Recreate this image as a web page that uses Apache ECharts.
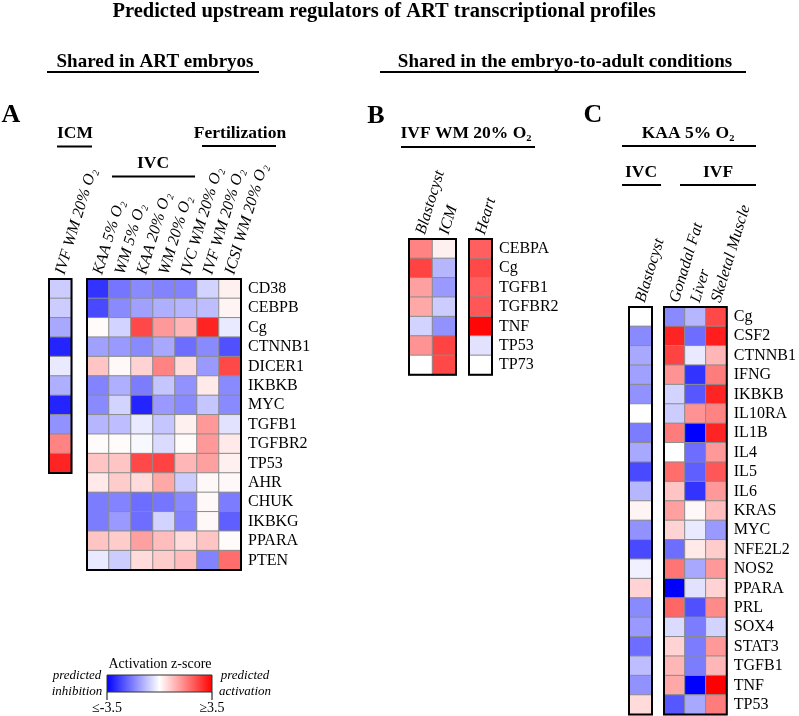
<!DOCTYPE html>
<html>
<head>
<meta charset="utf-8">
<script src="https://cdn.jsdelivr.net/npm/echarts@6/dist/echarts.min.js"></script>
<style>html,body{margin:0;padding:0;background:#fff;}#chart{width:799px;height:716px;}</style>
</head>
<body>
<div id="chart"></div>
<script>
// ---------- DATA ----------
const rowsA = ['CD38','CEBPB','Cg','CTNNB1','DICER1','IKBKB','MYC','TGFB1','TGFBR2','TP53','AHR','CHUK','IKBKG','PPARA','PTEN'];
const rowsICM = ['CD38','CEBPB','Cg','CTNNB1','DICER1','IKBKB','MYC','TGFB1','TGFBR2','TP53'];
const colsICM = ['IVF WM 20% O\u2082'];
const valsICM = [-0.7,-0.7,-1.2,-3.0,-0.3,-1.1,-3.0,-1.5,1.7,3.0];

const colsA = ['KAA 5% O\u2082','WM 5% O\u2082','KAA 20% O\u2082','WM 20% O\u2082','IVC WM 20% O\u2082','IVF WM 20% O\u2082','ICSI WM 20% O\u2082'];
const valsA = [
  [-2.8,-1.9,-1.6,-1.7,-1.7,-0.6, 0.2],
  [-2.5,-1.6,-1.3,-1.1,-1.0,-0.9, 0.15],
  [ 0.05,-0.6, 2.5, 1.4, 1.0, 3.0,-0.3],
  [-1.3,-1.4,-1.6,-1.2,-2.0,-1.6,-2.4],
  [ 0.8, 0.1, 0.6, 1.7, 0.5,-1.4, 2.5],
  [-1.7,-1.1,-1.8,-0.8,-1.5, 0.3,-1.6],
  [-1.6,-0.6,-3.0,-1.4,-1.6,-0.8,-1.6],
  [-1.0,-0.9,-0.3,-0.8, 0.2, 1.4,-0.4],
  [ 0.05, 0.05,-0.1,-0.5, 0.05, 1.4, 0.3],
  [ 0.8, 0.8, 2.5, 2.6, 1.0, 1.3, 0.2],
  [ 0.3, 0.7, 0.5, 1.2,-0.7, 0.1, 0.1],
  [-1.8,-1.7,-2.0,-1.9,-1.6, 0.1,-1.8],
  [-1.8,-1.4,-2.0,-0.6,-1.7, 0.1,-2.2],
  [ 0.8, 0.7, 1.3, 0.9, 0.5, 0.8, 0.05],
  [-0.3,-0.7, 0.5, 0.7, 0.9,-1.7, 2.0]
];

const rowsB = ['CEBPA','Cg','TGFB1','TGFBR2','TNF','TP53','TP73'];
const colsB1 = ['Blastocyst','ICM'];
const valsB1 = [[1.7,0.2],[2.6,-1.0],[1.3,-1.4],[1.2,-0.7],[-0.6,-1.5],[1.5,2.6],[0.0,2.5]];
const colsB2 = ['Heart'];
const valsB2 = [2.2,2.5,2.2,2.3,3.4,-0.4,0.0];

const rowsC = ['Cg','CSF2','CTNNB1','IFNG','IKBKB','IL10RA','IL1B','IL4','IL5','IL6','KRAS','MYC','NFE2L2','NOS2','PPARA','PRL','SOX4','STAT3','TGFB1','TNF','TP53'];
const colsC1 = ['Blastocyst'];
const valsC1 = [0.0,-1.6,-1.2,-1.3,-1.5,0.0,-1.8,-1.2,-2.5,-1.0,0.15,-1.5,-2.5,-0.2,0.6,-1.6,-1.4,-2.0,-0.9,-1.5,0.5];
const colsC2 = ['Gonadal Fat','Liver','Skeletal Muscle'];
const valsC2 = [
  [-1.6,-1.0, 2.5],
  [ 3.0,-2.0, 3.1],
  [ 2.6,-0.3, 1.0],
  [ 1.5,-2.8, 1.8],
  [-0.6,-2.3, 3.0],
  [-0.7, 1.5, 1.7],
  [ 1.8,-3.5, 3.0],
  [ 0.0,-2.0, 1.4],
  [ 2.0,-2.2, 2.3],
  [ 0.8,-2.8, 1.4],
  [ 1.3, 0.1, 0.9],
  [ 0.6,-0.3,-1.4],
  [-2.0, 0.3, 0.7],
  [ 1.9,-1.2, 1.4],
  [-3.5,-0.4, 0.6],
  [ 2.1,-2.4, 1.6],
  [-0.5,-1.8,-0.6],
  [ 0.6,-1.8, 1.4],
  [ 1.0,-1.8, 1.0],
  [ 1.2,-3.5, 3.5],
  [-2.3,-1.2, 1.8]
];
const legendTicks = ['\u2264-3.5','\u22653.5'];

// ---------- BUILD ----------
const SERIF = "'Liberation Serif', 'Times New Roman', serif";
const RH = 19.4;
const panels = [
  {cols: colsICM, rows: rowsICM, vals: valsICM.map(v => [v]), left: 49, top: 279, width: 22.5, labels: false},
  {cols: colsA,   rows: rowsA,   vals: valsA,                  left: 87, top: 279, width: 154, labels: true},
  {cols: colsB1,  rows: rowsB,   vals: valsB1,                 left: 409, top: 239, width: 47, labels: false},
  {cols: colsB2,  rows: rowsB,   vals: valsB2.map(v => [v]),   left: 469, top: 239, width: 23, labels: true},
  {cols: colsC1,  rows: rowsC,   vals: valsC1.map(v => [v]),   left: 629, top: 307, width: 23, labels: false},
  {cols: colsC2,  rows: rowsC,   vals: valsC2,                 left: 664, top: 307, width: 68, labels: true}
];

const grids = [], xAxes = [], yAxes = [], series = [];
panels.forEach((p, i) => {
  grids.push({left: p.left, top: p.top, width: p.width, height: p.rows.length * RH,
    show: true, borderColor: '#000', borderWidth: 2, backgroundColor: 'rgba(0,0,0,0)', z: 10});
  xAxes.push({type: 'category', gridIndex: i, data: p.cols, position: 'top',
    axisLine: {show: false}, axisTick: {show: false}, splitLine: {show: false},
    axisLabel: {interval: 0, rotate: -73, margin: 5, fontFamily: SERIF, fontStyle: 'italic', fontSize: 16, color: '#000'}});
  yAxes.push({type: 'category', gridIndex: i, data: p.rows, inverse: true, position: 'right',
    axisLine: {show: false}, axisTick: {show: false}, splitLine: {show: false},
    axisLabel: {show: p.labels, interval: 0, margin: 7, fontFamily: SERIF, fontSize: 16, color: '#000'}});
  const data = [];
  p.vals.forEach((row, r) => row.forEach((v, c) => data.push([c, r, v])));
  series.push({type: 'heatmap', xAxisIndex: i, yAxisIndex: i, data: data,
    itemStyle: {borderColor: '#8c8c8c', borderWidth: 1}, emphasis: {disabled: true}, silent: true});
});

function txt(x, y, text, font, align) {
  return {type: 'text', x: x, y: y, silent: true, z: 20,
    style: {text: text, font: font, fill: '#000', align: align || 'center', verticalAlign: 'middle',
      textAlign: align || 'center', textVerticalAlign: 'middle'}};
}
function ln(x1, y1, x2, y2, w) {
  return {type: 'line', silent: true, z: 20, shape: {x1: x1, y1: y1, x2: x2, y2: y2}, style: {stroke: '#000', lineWidth: w || 2}};
}
const B17 = 'bold 17.5px ' + SERIF;
const graphics = [
  txt(384, 12, 'Predicted upstream regulators of ART transcriptional profiles', 'bold 20.5px ' + SERIF),
  txt(155, 62, 'Shared in ART embryos', 'bold 19px ' + SERIF), ln(47, 72, 259, 72),
  txt(565, 62, 'Shared in the embryo-to-adult conditions', 'bold 19px ' + SERIF), ln(380, 72, 746, 72),
  txt(11, 115, 'A', 'bold 26px ' + SERIF),
  txt(376, 116, 'B', 'bold 26px ' + SERIF),
  txt(593, 115, 'C', 'bold 26px ' + SERIF),
  txt(75, 133, 'ICM', B17), ln(57, 146.5, 92, 146.5),
  txt(240, 133, 'Fertilization', B17), ln(202, 146, 276, 146),
  txt(153, 163, 'IVC', B17), ln(112, 176.5, 195, 176.5),
  txt(466, 133, 'IVF WM 20% O\u2082', B17), ln(401, 147, 535, 147),
  txt(688, 133, 'KAA 5% O\u2082', B17), ln(622, 146, 756, 146),
  txt(641, 172, 'IVC', B17), ln(622, 185, 661, 185),
  txt(718, 172, 'IVF', B17), ln(680, 185, 756, 185),
  // legend
  txt(160, 664, 'Activation z-score', '14px ' + SERIF),
  {type: 'rect', silent: true, z: 20, shape: {x: 107, y: 675, width: 105, height: 17},
    style: {fill: new echarts.graphic.LinearGradient(0, 0, 1, 0, [
      {offset: 0, color: '#0000ff'}, {offset: 0.5, color: '#ffffff'}, {offset: 1, color: '#ff0000'}]),
      stroke: '#333', lineWidth: 1}},
  ln(107, 692, 107, 700, 1), ln(212, 692, 212, 700, 1),
  txt(107, 708, legendTicks[0], '14px ' + SERIF),
  txt(212, 708, legendTicks[1], '14px ' + SERIF),
  txt(77, 676, 'predicted', 'italic 13px ' + SERIF),
  txt(77, 692, 'inhibition', 'italic 13px ' + SERIF),
  txt(245, 676, 'predicted', 'italic 13px ' + SERIF),
  txt(245, 692, 'activation', 'italic 13px ' + SERIF)
];

const chart = echarts.init(document.getElementById('chart'), null, {renderer: 'canvas'});
chart.setOption({
  animation: false,
  backgroundColor: '#fff',
  grid: grids, xAxis: xAxes, yAxis: yAxes, series: series,
  visualMap: {type: 'continuous', show: false, min: -3.5, max: 3.5, seriesIndex: [0,1,2,3,4,5],
    inRange: {color: ['#0000ff', '#ffffff', '#ff0000']}},
  graphic: graphics
});
</script>
</body>
</html>
